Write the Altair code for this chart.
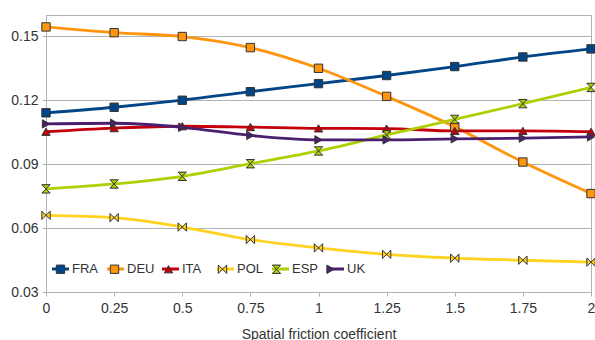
import altair as alt
import pandas as pd

coef = [0, 0.25, 0.5, 0.75, 1, 1.25, 1.5, 1.75, 2]
countries = ["FRA", "DEU", "ITA", "POL", "ESP", "UK"]
fra = [0.1141, 0.1167, 0.1200, 0.1240, 0.1278, 0.1316, 0.1358, 0.1403, 0.1441]
deu = [0.1544, 0.1517, 0.1499, 0.1447, 0.1350, 0.1218, 0.1075, 0.0910, 0.0762]
ita = [0.1052, 0.1069, 0.1078, 0.1074, 0.1068, 0.1067, 0.1056, 0.1056, 0.1052]
pol = [0.0660, 0.0649, 0.0605, 0.0546, 0.0507, 0.0477, 0.0459, 0.0449, 0.0440]
esp = [0.0784, 0.0807, 0.0843, 0.0902, 0.0962, 0.1037, 0.1110, 0.1184, 0.1260]
uk = [0.1089, 0.1092, 0.1073, 0.1035, 0.1014, 0.1014, 0.1019, 0.1022, 0.1028]
y_ticks = [0.03, 0.06, 0.09, 0.12, 0.15]

colors = ["#004586", "#ff950e", "#c5000b", "#ffd320", "#aecf00", "#4b1f6f"]
shapes = [
    "square",
    "square",
    "triangle-up",
    "M-1,-1L1,1L1,-1L-1,1Z",
    "M-1,-1L1,-1L-1,1L1,1Z",
    "triangle-right",
]

series = [fra, deu, ita, pol, esp, uk]
rows = []
for name, vals in zip(countries, series):
    for c, v in zip(coef, vals):
        rows.append({"coef": c, "value": v, "country": name})
df = pd.DataFrame(rows)

FONT = "Liberation Sans"
TXT = "#333333"
GRID = "#b3b3b3"

color_scale = alt.Scale(domain=countries, range=colors)
shape_scale = alt.Scale(domain=countries, range=shapes)

x_enc = alt.X(
    "coef:Q",
    scale=alt.Scale(domain=[0, 2], nice=False),
    axis=alt.Axis(
        values=coef, labelExpr="toString(datum.value)",
        title="Spatial friction coefficient",
        grid=False, labelFlush=False, labelOverlap=False,
        tickSize=4, labelPadding=5, titlePadding=12,
    ),
)
y_enc = alt.Y(
    "value:Q",
    scale=alt.Scale(domain=[0.03, 0.16], nice=False, zero=False),
    axis=alt.Axis(
        values=y_ticks, format=".2f", title=None, grid=True,
        labelFlush=False, tickSize=4, labelPadding=4,
    ),
)

LX = 4.5
LY = 244

legend_lines = alt.Legend(
    title=None, orient="none", legendX=LX, legendY=LY, direction="horizontal",
    symbolType="stroke", symbolSize=289, symbolStrokeWidth=3,
    labelFont=FONT, labelFontSize=13, labelColor=TXT, labelOffset=1.5,
    gridAlign="all", columnPadding=1, padding=0, zindex=0,
)
legend_pts = alt.Legend(
    title=None, orient="none", legendX=LX, legendY=LY + 3.5, direction="horizontal",
    symbolSize=70, symbolStrokeWidth=1, symbolStrokeColor="#333333",
    symbolOffset=3.5, labelExpr="''",
    labelFont=FONT, labelFontSize=13, labelOffset=8.5,
    gridAlign="all", columnPadding=29, padding=0, zindex=1,
)

lines = alt.Chart(df).mark_line(interpolate="monotone", strokeWidth=2.8).encode(
    x=x_enc, y=y_enc,
    color=alt.Color("country:N", scale=color_scale, legend=legend_lines),
)
points = alt.Chart(df).mark_point(
    filled=True, size=70, stroke="#333333", strokeWidth=1, opacity=1
).encode(
    x=x_enc, y=y_enc,
    color=alt.Color("country:N", scale=color_scale, legend=legend_pts),
    shape=alt.Shape("country:N", scale=shape_scale, legend=legend_pts),
)

chart = (
    alt.layer(lines, points)
    .resolve_legend(color="independent", shape="independent")
    .properties(
        width=545, height=277,
        padding={"left": 46, "top": 15, "right": 4, "bottom": 48},
        autosize=alt.AutoSizeParams(type="none"),
        background="white",
    )
    .configure_view(stroke=GRID, strokeWidth=1)
    .configure_axis(
        labelFont=FONT, labelFontSize=14, labelColor=TXT,
        titleFont=FONT, titleFontSize=14, titleColor=TXT, titleFontWeight="normal",
        domainColor=GRID, tickColor=GRID, gridColor=GRID,
    )
)

chart.save("out.html", embed_options={"renderer": "svg", "actions": False})
